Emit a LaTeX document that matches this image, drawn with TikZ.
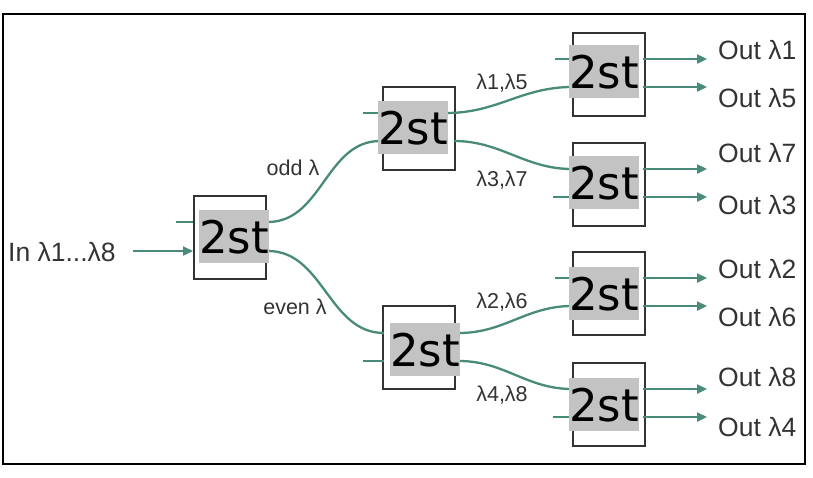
\documentclass[tikz,border=0pt]{standalone}
\usepackage{fontspec}
\setmainfont{Liberation Sans}
\newfontfamily\boxfont{DejaVu Sans}
\usepackage[HTML]{xcolor}
\usepackage{tikz}
\usetikzlibrary{positioning, arrows.meta}
\definecolor{fibre}{HTML}{4A8A78}
\definecolor{ink}{HTML}{333333}
\definecolor{shade}{HTML}{C3C3C3}
\tikzset{
  stagebox/.style={draw=ink, line width=2.2pt, minimum width=72pt, minimum height=83pt, inner sep=0pt, anchor=north west},
  stagetag/.style={fill=shade, minimum width=69pt, minimum height=53pt, inner sep=0pt, anchor=north west, font=\boxfont\fontsize{45}{45}\selectfont, text=black},
  fiber/.style={draw=fibre, line width=2.3pt},
  fiberout/.style={fiber, -{Triangle[length=10pt,width=9pt]}},
  bigtext/.style={text=ink, font=\fontsize{26.5}{30}\selectfont, inner sep=0pt},
  smalltext/.style={text=ink, font=\fontsize{21.5}{24}\selectfont, inner sep=0pt}
}
\begin{document}
\begin{tikzpicture}[x=1pt, y=-1pt]
\useasboundingbox (0,0) rectangle (813,477);
% frame
\draw[line width=2pt] (3,14) rectangle (805,464);
% splitter boxes
\node[stagebox] (b1) at (193,195) {};
\node[stagebox] (b2) at (382,86) {};
\node[stagebox] (b3) at (382,305) {};
\node[stagebox] (r1) at (572,32) {};
\node[stagebox] (r2) at (572,142) {};
\node[stagebox] (r3) at (572,251) {};
\node[stagebox] (r4) at (572,362) {};
% ports
\coordinate (in) at (133,251);
\coordinate (b1a) at (176,222);  \coordinate (b1b) at (193,251);
\coordinate (b1c) at (193,222);
\coordinate (b1p) at (268,222);  \coordinate (b1q) at (268,251);
\coordinate (b2a) at (363,113);  \coordinate (b2b) at (382,113);
\coordinate (b2c) at (380,141);
\coordinate (b2p) at (447,113);  \coordinate (b2q) at (454,141);
\coordinate (b3a) at (363,361);  \coordinate (b3b) at (384,361);
\coordinate (b3c) at (384,333);
\coordinate (b3p) at (459,333);  \coordinate (b3q) at (459,361);
\foreach \r/\t in {r1/59, r2/169, r3/278, r4/389} {
  \coordinate (\r a) at (572,\t);
  \coordinate (\r b) at (572,\t+28);
  \coordinate (\r p) at (643,\t);
  \coordinate (\r q) at (643,\t+28);
  \coordinate (\r x) at (707,\t);
  \coordinate (\r y) at (707,\t+28);
}
\coordinate (r1s) at (555,59);
\coordinate (r2s) at (553,197);
\coordinate (r3s) at (555,278);
\coordinate (r4s) at (553,417);
% input
\draw[fiberout] (in) -- (b1b);
\draw[fiber] (b1a) -- (b1c);
% first split
\draw[fiber] (b1p) to[out=0, in=180] (b2c);
\draw[fiber] (b1q) to[out=0, in=180] (b3c);
\draw[fiber] (b2a) -- (b2b);
\draw[fiber] (b3a) -- (b3b);
% second split
\draw[fiber] (b2p) to[out=0, in=180] (r1b);
\draw[fiber] (b2q) to[out=0, in=180] (r2a);
\draw[fiber] (b3p) to[out=0, in=180] (r3b);
\draw[fiber] (b3q) to[out=0, in=180] (r4a);
\draw[fiber] (r1s) -- (r1a);
\draw[fiber] (r2s) -- (r2b);
\draw[fiber] (r3s) -- (r3a);
\draw[fiber] (r4s) -- (r4b);
% outputs
\foreach \r in {r1, r2, r3, r4} {
  \draw[fiberout] (\r p) -- (\r x);
  \draw[fiberout] (\r q) -- (\r y);
}
% grey tags
\node[stagetag] (g1) at (199,210) {2st};
\node[stagetag] (g2) at (378,101) {2st};
\node[stagetag] (g3) at (390,323) {2st};
\node[stagetag] (h1) at (569,45) {2st};
\node[stagetag] (h2) at (569,156) {2st};
\node[stagetag] (h3) at (569,267) {2st};
\node[stagetag] (h4) at (569,378) {2st};
% labels
\node[bigtext, anchor=west] (lin) at (8,252) {In λ1...λ8};
\node[smalltext] (lodd) at (293,168) {odd λ};
\node[smalltext] (leven) at (295,307) {even λ};
\node[smalltext] (l15) at (502,83) {λ1,λ5};
\node[smalltext] (l37) at (502,180) {λ3,λ7};
\node[smalltext] (l26) at (502,302) {λ2,λ6};
\node[smalltext] (l48) at (502,395) {λ4,λ8};
\node[bigtext, anchor=west] (o1) at (718,50) {Out λ1};
\node[bigtext, anchor=west] (o5) at (718,98) {Out λ5};
\node[bigtext, anchor=west] (o7) at (718,153) {Out λ7};
\node[bigtext, anchor=west] (o3) at (718,205) {Out λ3};
\node[bigtext, anchor=west] (o2) at (718,269) {Out λ2};
\node[bigtext, anchor=west] (o6) at (718,317) {Out λ6};
\node[bigtext, anchor=west] (o8) at (718,377) {Out λ8};
\node[bigtext, anchor=west] (o4) at (718,427) {Out λ4};
\end{tikzpicture}
\end{document}
